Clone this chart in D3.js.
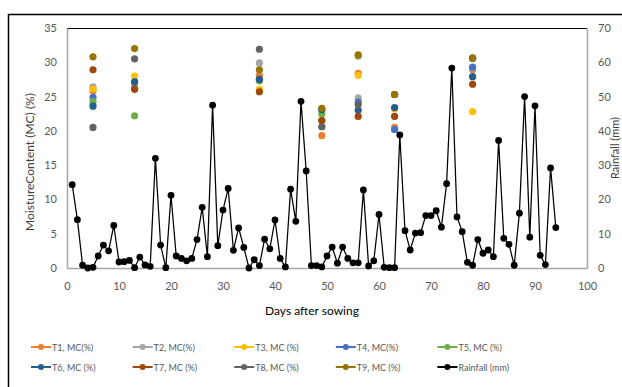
<!DOCTYPE html>
<html>
<head>
<meta charset="utf-8">
<script src="https://cdn.jsdelivr.net/npm/d3@7"></script>
<style>
  body { margin: 0; background: #fff; }
  svg text { font-family: Lato, "Open Sans", sans-serif; }
</style>
</head>
<body>
<div id="chart"></div>
<script>
// days when moisture content was sampled
const mcDays = [5, 13, 37, 49, 56, 63, 78];

const t1 = [25.8, 26.3, 28.1, 19.3, 28.4, 20.5, 28.9];
const t2 = [26.4, 26.1, 29.9, 20.6, 24.8, 20.2, 29.2];
const t3 = [26.1, 28.0, 26.05, 21.5, 28.1, 23.2, 22.8];
const t4 = [24.9, 27.2, 27.5, 23.1, 24.2, 20.2, 29.3];
const t5 = [24.25, 22.2, 27.3, 22.45, 30.9, 25.3, 30.6];
const t6 = [23.6, 27.1, 27.5, 23.1, 23.0, 23.4, 27.9];
const t7 = [28.9, 26.05, 25.7, 21.5, 22.1, 22.1, 26.8];
const t8 = [20.5, 30.5, 31.9, 20.6, 23.8, 25.3, 30.6];
const t9 = [30.8, 32.0, 28.9, 23.3, 31.1, 25.3, 30.6];

// daily rainfall (mm), day 1 .. day 94
const rainfall = [
  24.3, 14.1, 0.8, 0.0, 0.2, 3.5, 6.7, 5.0, 12.4, 1.75,
  1.85, 2.2, 0.1, 3.2, 0.9, 0.5, 32.0, 6.7, 0.1, 21.2,
  3.5, 2.8, 2.1, 2.8, 8.3, 17.7, 3.3, 47.5, 6.5, 16.9,
  23.2, 5.15, 11.7, 6.0, 0.0, 2.4, 0.7, 8.4, 5.6, 14.0,
  2.8, 0.3, 23.0, 13.6, 48.6, 28.3, 0.7, 0.7, 0.3, 3.5,
  6.1, 1.4, 6.1, 2.8, 1.5, 1.5, 22.75, 0.6, 2.1, 15.6,
  0.2, 0.1, 0.1, 38.8, 10.9, 5.25, 10.2, 10.3, 15.3, 15.3,
  16.7, 11.9, 24.6, 58.3, 14.9, 10.6, 1.65, 0.8, 8.3, 4.3,
  5.25, 3.3, 37.2, 8.65, 6.9, 0.8, 16.0, 50.0, 9.0, 47.3,
  3.7, 1.0, 29.2, 11.8
];

const seriesNames = ["T1, MC(%)", "T2, MC(%)", "T3, MC (%)", "T4, MC(%)", "T5, MC (%)",
                     "T6, MC (%)", "T7, MC (%)", "T8, MC (%)", "T9, MC (%)"];
const seriesColors = ["#ED7D31", "#A5A5A5", "#FFC000", "#4472C4", "#70AD47",
                      "#255E91", "#9E480E", "#636363", "#997300"];
const xTicks = [0, 10, 20, 30, 40, 50, 60, 70, 80, 90, 100];
const yLeftTicks = [0, 5, 10, 15, 20, 25, 30, 35];
const yRightTicks = [0, 10, 20, 30, 40, 50, 60, 70];

const mcSeries = [t1, t2, t3, t4, t5, t6, t7, t8, t9].map((vals, i) => ({
  name: seriesNames[i],
  color: seriesColors[i],
  values: vals.map((v, j) => ({ day: mcDays[j], value: v }))
}));
const rainData = rainfall.map((v, i) => ({ day: i + 1, value: v }));

const W = 622, H = 387;
const plot = { left: 67, right: 587, top: 28, bottom: 268 };

const svg = d3.select("#chart").append("svg")
  .attr("width", W).attr("height", H);

// chart frame
svg.append("rect")
  .attr("x", 8.5).attr("y", 14.5)
  .attr("width", 700).attr("height", 500)
  .attr("fill", "none").attr("stroke", "#000").attr("stroke-width", 1.5);

const x = d3.scaleLinear().domain([0, 100]).range([plot.left, plot.right]);
const yL = d3.scaleLinear().domain([0, 35]).range([plot.bottom, plot.top]);
const yR = d3.scaleLinear().domain([0, 70]).range([plot.bottom, plot.top]);

// plot area outline
svg.append("line")
  .attr("x1", plot.left).attr("x2", plot.right)
  .attr("y1", plot.top + 0.5).attr("y2", plot.top + 0.5)
  .attr("stroke", "#000").attr("stroke-width", 1);

function styleAxis(g) {
  g.select(".domain").attr("stroke", "#a6a6a6").attr("stroke-width", 1.5);
  g.selectAll("text").attr("fill", "#595959").style("font-size", "11px");
}

svg.append("g")
  .attr("transform", `translate(0,${plot.bottom})`)
  .call(d3.axisBottom(x).tickValues(xTicks).tickSize(0).tickPadding(14))
  .call(styleAxis);

svg.append("g")
  .attr("transform", `translate(${plot.left},0)`)
  .call(d3.axisLeft(yL).tickValues(yLeftTicks).tickSize(0).tickPadding(10))
  .call(styleAxis);

svg.append("g")
  .attr("transform", `translate(${plot.right},0)`)
  .call(d3.axisRight(yR).tickValues(yRightTicks).tickSize(0).tickPadding(11))
  .call(styleAxis);

// axis titles
svg.append("text")
  .attr("transform", `translate(34,${(plot.top + plot.bottom) / 2 + 14}) rotate(-90)`)
  .attr("text-anchor", "middle")
  .attr("fill", "#404040").style("font-size", "12px")
  .text("MoistureContent (MC) (%)");

svg.append("text")
  .attr("transform", `translate(619,${(plot.top + plot.bottom) / 2}) rotate(-90)`)
  .attr("text-anchor", "middle")
  .attr("fill", "#404040").style("font-size", "11px")
  .text("Rainfall (mm)");

svg.append("text")
  .attr("x", 312).attr("y", 315)
  .attr("text-anchor", "middle")
  .attr("fill", "#000").style("font-size", "12px")
  .text("Days after sowing");

// moisture content markers
mcSeries.forEach(s => {
  svg.append("g").selectAll("circle")
    .data(s.values)
    .join("circle")
    .attr("cx", d => x(d.day))
    .attr("cy", d => yL(d.value))
    .attr("r", 3.6)
    .attr("fill", s.color);
});

// rainfall line + markers
const line = d3.line().x(d => x(d.day)).y(d => yR(d.value));
svg.append("path")
  .datum(rainData)
  .attr("d", line)
  .attr("fill", "none").attr("stroke", "#000").attr("stroke-width", 1.25);
svg.append("g").selectAll("circle")
  .data(rainData)
  .join("circle")
  .attr("cx", d => x(d.day))
  .attr("cy", d => yR(d.value))
  .attr("r", 3.4)
  .attr("fill", "#000");

// legend
const legendItems = mcSeries.map(s => ({ name: s.name, color: s.color }))
  .concat([{ name: "Rainfall (mm)", color: "#000" }]);
const legend = svg.append("g");
legendItems.forEach((item, i) => {
  const col = i % 5, row = Math.floor(i / 5);
  const lx = 31 + col * 101.6, ly = 347 + row * 20;
  const g = legend.append("g").attr("transform", `translate(${lx},${ly})`);
  g.append("line").attr("x1", 0).attr("x2", 20).attr("y1", 0).attr("y2", 0)
    .attr("stroke", item.color).attr("stroke-width", 2);
  g.append("circle").attr("cx", 10).attr("cy", 0).attr("r", 3).attr("fill", item.color);
  g.append("text").attr("x", 21).attr("y", 3.5)
    .attr("fill", "#595959").style("font-size", "9px")
    .text(item.name);
});
</script>
</body>
</html>
